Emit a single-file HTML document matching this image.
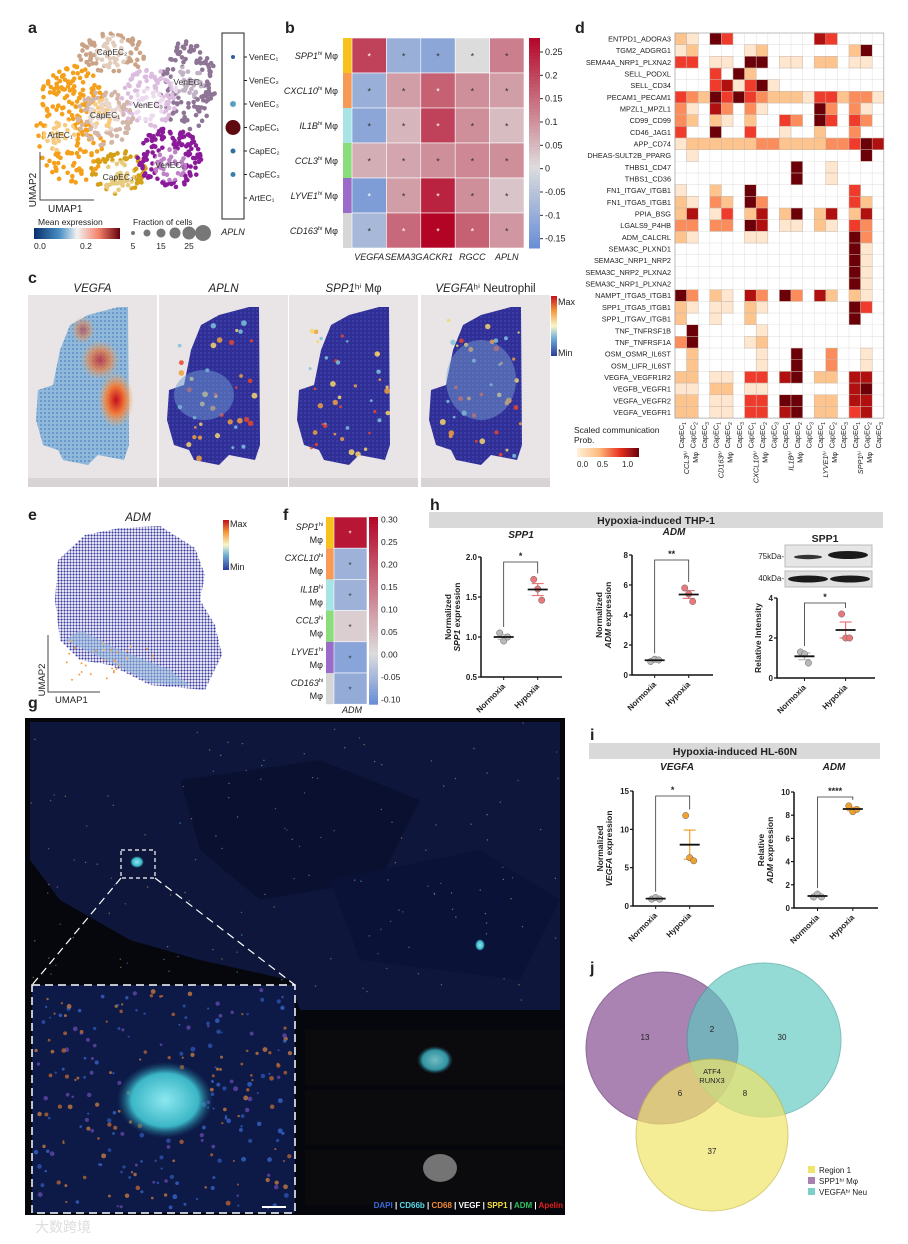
<!DOCTYPE html>
<html><head><meta charset="utf-8"><style>
body{margin:0;background:#fff}
svg{display:block;font-family:"Liberation Sans","Noto Sans CJK SC",sans-serif}
</style></head><body>
<svg id="fig" width="908" height="1244" viewBox="0 0 908 1244" xmlns="http://www.w3.org/2000/svg">
<defs>
<linearGradient id="mexp" x1="0" x2="1"><stop offset="0" stop-color="#08306b"/><stop offset="0.3" stop-color="#4a90c4"/><stop offset="0.5" stop-color="#f2f2f2"/><stop offset="0.75" stop-color="#f4836a"/><stop offset="1" stop-color="#67000d"/></linearGradient>
<linearGradient id="jet" x1="0" y1="1" x2="0" y2="0"><stop offset="0" stop-color="#2c3b9c"/><stop offset="0.3" stop-color="#6fb1d6"/><stop offset="0.5" stop-color="#f7f7c8"/><stop offset="0.75" stop-color="#f59b3a"/><stop offset="1" stop-color="#c4101c"/></linearGradient>
<linearGradient id="orr" x1="0" x2="1"><stop offset="0" stop-color="#fff0dc"/><stop offset="0.35" stop-color="#fdbb7c"/><stop offset="0.7" stop-color="#e8301f"/><stop offset="1" stop-color="#67000d"/></linearGradient>
<pattern id="navydots" width="4" height="4" patternUnits="userSpaceOnUse"><rect width="4" height="4" fill="#2f2f96"/><circle cx="1" cy="1" r="0.9" fill="#4747b8"/></pattern>
<pattern id="bluedots" width="4" height="4" patternUnits="userSpaceOnUse"><rect width="4" height="4" fill="#8fb8da"/><circle cx="1" cy="1" r="1" fill="#5f8fc6"/></pattern>
<pattern id="umapdots" width="3" height="3" patternUnits="userSpaceOnUse"><rect width="3" height="3" fill="#fff"/><circle cx="1.5" cy="1.5" r="1.1" fill="#3535a0"/></pattern>
<radialGradient id="hot"><stop offset="0" stop-color="#c4101c"/><stop offset="0.5" stop-color="#f07b3a"/><stop offset="1" stop-color="#f5b46a" stop-opacity="0"/></radialGradient>
<radialGradient id="cyan"><stop offset="0" stop-color="#8de8f0"/><stop offset="0.7" stop-color="#3bb6c6"/><stop offset="1" stop-color="#1a6080" stop-opacity="0"/></radialGradient>
</defs>
<g id="root"></g>
</svg>
<script>
// ---------- DATA ----------
const bRows=["SPP1","CXCL10","IL1B","CCL3","LYVE1","CD163"];
const bCols=["VEGFA","SEMA3G","ACKR1","RGCC","APLN"];
const bVals=[[0.20,-0.10,-0.12,0.00,0.12],[-0.10,0.08,0.16,0.10,0.08],[-0.12,0.05,0.20,0.10,0.04],[0.06,0.07,0.10,0.11,0.10],[-0.14,0.08,0.24,0.10,0.03],[-0.08,0.15,0.28,0.16,0.09]];
const bTicks=[0.25,0.2,0.15,0.1,0.05,0.0,-0.05,-0.1,-0.15];
const fVals=[0.28,-0.06,-0.06,0.02,-0.08,-0.07];
const fTicks=[0.30,0.25,0.20,0.15,0.10,0.05,0.00,-0.05,-0.10];
const dRows=["ENTPD1_ADORA3","TGM2_ADGRG1","SEMA4A_NRP1_PLXNA2","SELL_PODXL","SELL_CD34","PECAM1_PECAM1","MPZL1_MPZL1","CD99_CD99","CD46_JAG1","APP_CD74","DHEAS-SULT2B_PPARG","THBS1_CD47","THBS1_CD36","FN1_ITGAV_ITGB1","FN1_ITGA5_ITGB1","PPIA_BSG","LGALS9_P4HB","ADM_CALCRL","SEMA3C_PLXND1","SEMA3C_NRP1_NRP2","SEMA3C_NRP2_PLXNA2","SEMA3C_NRP1_PLXNA2","NAMPT_ITGA5_ITGB1","SPP1_ITGA5_ITGB1","SPP1_ITGAV_ITGB1","TNF_TNFRSF1B","TNF_TNFRSF1A","OSM_OSMR_IL6ST","OSM_LIFR_IL6ST","VEGFA_VEGFR1R2","VEGFB_VEGFR1","VEGFA_VEGFR2","VEGFA_VEGFR1"];
const dVals=["210640000000540000","120000120000000260","440110660110220110","000406200000000000","000451461000000000","432646432221442331","310530310000630310","320210200430640430","400600400100200300","122222233222233465","010000000000000060","000000000060010000","000000000060010000","100200600000000400","210320630000000420","250140250260250250","330330650110210430","210000110000000630","000000000000000610","000000000000000610","000000000000000610","000000000000000610","630210530630520210","210110210000000640","200100200000000600","060000010000000000","360000120000000000","020000010060030010","020000010060030010","220110440560220550","110220110000000560","220110440660220550","220110440560220450"];
const dGroups=["CCL3ʰⁱ","CD163ʰⁱ","CXCL10ʰⁱ","IL1Bʰⁱ","LYVE1ʰⁱ","SPP1ʰⁱ"];
const hSppNorm=[1.05,0.95,1.0], hSppHyp=[1.72,1.6,1.46];
const hAdmNorm=[0.9,1.05,1.0], hAdmHyp=[5.8,5.4,4.9];
const hWbNorm=[1.3,1.2,0.75], hWbHyp=[3.2,2.0,2.0];
const iVegNorm=[0.9,1.1,0.9], iVegHyp=[11.8,6.3,5.9];
const iAdmNorm=[0.95,1.2,0.95], iAdmHyp=[8.8,8.3,8.5];
const vennCounts=[13,2,30,6,8,37];

// ---------- helpers ----------
const NS="http://www.w3.org/2000/svg";
const root=document.getElementById('root');
function el(tag,attrs,parent,txt){const e=document.createElementNS(NS,tag);for(const k in attrs)e.setAttribute(k,attrs[k]);if(txt!==undefined)e.textContent=txt;(parent||root).appendChild(e);return e;}
function T(x,y,s,size,opts,parent){opts=opts||{};const e=el('text',{x:x,y:y,'font-size':size,fill:opts.fill||'#222','text-anchor':opts.anchor||'start','font-weight':opts.bold?'bold':'normal','font-style':opts.it?'italic':'normal'},parent,s);if(opts.rot)e.setAttribute('transform','rotate('+opts.rot+' '+x+' '+y+')');return e;}
function lerp(a,b,t){return a+(b-a)*t}
function mix(c1,c2,t){return 'rgb('+[0,1,2].map(i=>Math.round(lerp(c1[i],c2[i],t))).join(',')+')'}
function coolwarm(v,lo,hi){const blue=[106,143,214],gray=[221,220,220],red=[180,4,38];if(v<0)return mix(gray,blue,Math.min(1,v/lo));return mix(gray,red,Math.min(1,v/hi));}
let seed=7;function rnd(){seed=(seed*16807)%2147483647;return seed/2147483647;}
function mean(a){return a.reduce((s,v)=>s+v,0)/a.length}

// panel labels
[["a",28,33],["b",285,33],["d",575,33],["c",28,283],["e",28,520],["f",283,520],["h",430,510],["g",28,708],["i",590,740],["j",590,973]].forEach(p=>{const t=T(p[1],p[2],p[0],16,{bold:true});});

// ---------- Panel a ----------
(function(){
const g=el('g',{});
const cl=[["#f5a01a",72,125,38,60,230],["#caa386",112,55,35,22,90],["#8e7495",188,85,28,45,150],["#dcbde0",148,98,30,30,110],["#d3b6a8",105,118,28,28,100],["#d4a017",118,172,28,22,80],["#8b1a9a",170,158,33,30,150]];
cl.forEach(c=>{for(let i=0;i<c[5];i++){const a=rnd()*6.283,r=Math.sqrt(rnd());el('circle',{cx:c[1]+Math.cos(a)*r*c[3],cy:c[2]+Math.sin(a)*r*c[4],r:2.3,fill:c[0]},g);}});
[["CapEC₂",112,55],["VenEC₁",188,85],["VenEC₃",148,108],["CapEC₁",105,118],["ArtEC₁",60,138],["VenEC₂",170,168],["CapEC₃",118,180]].forEach(l=>{el('circle',{cx:l[1],cy:l[2]-3,r:17,fill:'#fff',opacity:0.45},g);T(l[1],l[2],l[0],8.5,{anchor:'middle',fill:'#333'},g);});
el('path',{d:'M40 152 V200 H94',fill:'none',stroke:'#444','stroke-width':1},g);
T(36,190,"UMAP2",10,{rot:-90,anchor:'middle'},g);T(48,212,"UMAP1",10,{},g);
T(38,225,"Mean expression",8.5,{},g);el('rect',{x:34,y:228,width:86,height:11,fill:'url(#mexp)'},g);
T(34,249,"0.0",8.5,{},g);T(80,249,"0.2",8.5,{},g);
T(133,225,"Fraction of cells",8.5,{},g);
[2,3.5,4.5,5.5,6.5,8].forEach((r,i)=>el('circle',{cx:133+i*14,cy:233,r:r,fill:'#777'},g));
T(133,249,"5",8.5,{anchor:'middle'},g);T(161,249,"15",8.5,{anchor:'middle'},g);T(189,249,"25",8.5,{anchor:'middle'},g);
el('rect',{x:222,y:33,width:22,height:186,fill:'none',stroke:'#222','stroke-width':1},g);
const lbl=["VenEC₁","VenEC₂","VenEC₃","CapEC₁","CapEC₂","CapEC₃","ArtEC₁"];const rr=[2,0,3,7.5,2.5,2.5,0];const cc=["#2f5f9a","","#5aa0c0","#5e0a10","#2f6f9a","#3a7fa8",""];
lbl.forEach((s,i)=>{const y=57+i*23.5;if(rr[i])el('circle',{cx:233,cy:y,r:rr[i],fill:cc[i]},g);el('line',{x1:244,x2:247,y1:y,y2:y,stroke:'#222'},g);T(249,y+3,s,8.5,{},g);});
T(233,235,"APLN",9,{anchor:'middle',it:true},g);
})();

// ---------- Panel b heatmap ----------
(function(){
const g=el('g',{});
const x0=352,y0=38,cw=34.4,ch=35,lo=-0.17,hi=0.28;
const strip=["#f7c21c","#f79a55","#a8e4e6","#8bdc7c","#9a6cc8","#d6d6d6"];
bRows.forEach((r,i)=>{el('rect',{x:343,y:y0+i*ch,width:9,height:ch,fill:strip[i]},g);
const t=T(338,y0+i*ch+21,'',9,{anchor:'end',it:true},g);t.innerHTML='<tspan font-style="italic">'+r+'</tspan><tspan font-size="5.5" dy="-4">hi</tspan><tspan dy="4" font-style="normal"> Mφ</tspan>';
bVals[i].forEach((v,j)=>{const c=el('rect',{x:x0+j*cw,y:y0+i*ch,width:cw,height:ch,fill:coolwarm(v,lo,hi),stroke:'#fff','stroke-width':0.6},g);
T(x0+j*cw+cw/2,y0+i*ch+ch/2+4,'*',9,{anchor:'middle',fill:Math.abs(v)>0.12?'#fff':'#333'},g);});});
bCols.forEach((c,j)=>T(x0+j*cw+cw/2,y0+6*ch+12,c,9,{anchor:'middle',it:true},g));
const cy=v=>y0+6*ch-(v-lo)/(hi-lo)*(6*ch);
for(let k=0;k<60;k++){const v=lo+(hi-lo)*k/60;el('rect',{x:529,y:cy(v+(hi-lo)/60),width:11,height:6*ch/60+0.5,fill:coolwarm(v,lo,hi)},g);}
bTicks.forEach(t=>{el('line',{x1:540,x2:543,y1:cy(t),y2:cy(t),stroke:'#333'},g);T(545,cy(t)+3,String(t),9,{},g);});
})();

// ---------- Panel c spatial ----------
(function(){
const titles=[["VEGFA",""],["APLN",""],["SPP1","ʰⁱ Mφ"],["VEGFA","ʰⁱ Neutrophil"]];
const xs=[28,159,289,421],w=129;
titles.forEach((t,i)=>{const g=el('g',{});
const x=xs[i];el('rect',{x:x,y:295,width:w,height:192,fill:'#e9e5e6'},g);
el('rect',{x:x,y:478,width:w,height:9,fill:'#d8d4d6'},g);
const p=[[90,12],[100,12],[101,150],[96,165],[70,160],[60,170],[35,165],[30,155],[15,150],[8,125],[10,95],[25,90],[32,55],[42,30],[60,20]].map(q=>(x+q[0]*1.0)+','+(295+q[1])).join(' ');
el('polygon',{points:p,fill:i===0?'url(#bluedots)':'url(#navydots)'},g);
if(i===0){el('ellipse',{cx:x+88,cy:400,rx:18,ry:28,fill:'url(#hot)'},g);el('ellipse',{cx:x+72,cy:360,rx:20,ry:20,fill:'url(#hot)',opacity:0.7},g);el('ellipse',{cx:x+55,cy:330,rx:12,ry:14,fill:'url(#hot)',opacity:0.5},g);}
else{for(let k=0;k<40;k++)el('circle',{cx:x+20+rnd()*80,cy:320+rnd()*140,r:1.2+rnd()*1.8,fill:['#f6d66a','#e8452c','#7cc3d8','#f0a040'][k%4],opacity:0.85},g);
if(i===1){el('ellipse',{cx:x+45,cy:395,rx:30,ry:25,fill:'#6f9ccf',opacity:0.5},g);}
if(i===3){el('ellipse',{cx:x+60,cy:380,rx:35,ry:40,fill:'#7fa9d0',opacity:0.45},g);}}
const tt=T(x+w/2,292,'',11.5,{anchor:'middle'},g);tt.innerHTML='<tspan font-style="italic">'+t[0]+'</tspan>'+t[1];});
el('rect',{x:551,y:296,width:6,height:60,fill:'url(#jet)'});T(558,305,"Max",9,{});T(558,356,"Min",9,{});
})();

// ---------- Panel d ----------
(function(){
const g=el('g',{});
const x0=675,y0=33,cw=11.6,ch=11.67,n=18;
const pal=["none","#fee6cf","#fdc48e","#fb8c5c","#ef3b2c","#b0100f","#6b0009"];
for(let j=0;j<=n;j++)el('line',{x1:x0+j*cw,x2:x0+j*cw,y1:y0,y2:y0+dRows.length*ch,stroke:'#e4e4e4','stroke-width':0.6},g);
for(let i=0;i<=dRows.length;i++)el('line',{x1:x0,x2:x0+n*cw,y1:y0+i*ch,y2:y0+i*ch,stroke:'#e4e4e4','stroke-width':0.6},g);
dRows.forEach((r,i)=>{T(671,y0+i*ch+8.5,r,7.3,{anchor:'end'},g);
dVals[i].split('').forEach((c,j)=>{const v=+c;if(v>0){const rc=el('rect',{x:x0+j*cw,y:y0+i*ch,width:cw,height:ch,fill:pal[v],stroke:'#c9b7aa','stroke-width':0.5},g);}});});
el('rect',{x:x0,y:y0,width:n*cw,height:dRows.length*ch,fill:'none',stroke:'#999','stroke-width':0.6},g);
for(let j=0;j<n;j++){const x=x0+j*cw+cw/2+3;const t=T(x,y0+dRows.length*ch+4,'',7.3,{anchor:'end',rot:-90},g);t.innerHTML='CapEC<tspan font-size="5" dy="2">'+(j%3+1)+'</tspan>';}
dGroups.forEach((s,k)=>{const x=x0+(k*3+1.2)*cw;T(x,452,s,7.3,{anchor:'end',rot:-90,it:true},g);T(x+9,452,'Mφ',7.3,{anchor:'end',rot:-90},g);});
T(574,433,"Scaled communication",8.5,{},g);T(574,443,"Prob.",8.5,{},g);
el('rect',{x:577,y:448,width:62,height:9,fill:'url(#orr)'},g);
T(577,467,"0.0",8,{},g);T(597,467,"0.5",8,{},g);T(622,467,"1.0",8,{},g);
})();

// ---------- Panel e ----------
(function(){
const g=el('g',{});
T(138,521,"ADM",11.5,{anchor:'middle',it:true},g);
el('path',{d:'M120 528 L160 526 L195 548 L205 575 L200 600 L215 625 L222 655 L205 690 L150 685 L110 665 L80 660 L60 640 L55 600 L58 560 L85 535 Z',fill:'url(#umapdots)'},g);
el('path',{d:'M65 640 L110 662 L150 683 L190 686 L170 670 L120 650 L80 630 Z',fill:'#8fb8da',opacity:0.55},g);
for(let k=0;k<30;k++)el('circle',{cx:65+rnd()*90,cy:640+rnd()*40,r:1,fill:'#f0a050'},g);
el('rect',{x:223,y:520,width:6,height:50,fill:'url(#jet)'},g);T(230,527,"Max",9,{},g);T(230,570,"Min",9,{},g);
el('path',{d:'M48 635 V692 H100',fill:'none',stroke:'#444'},g);T(45,680,"UMAP2",9.5,{rot:-90,anchor:'middle'},g);T(55,703,"UMAP1",9.5,{},g);
})();

// ---------- Panel f ----------
(function(){
const g=el('g',{});
const y0=517,ch=31.2,lo=-0.11,hi=0.305;
const strip=["#f7c21c","#f79a55","#a8e4e6","#8bdc7c","#9a6cc8","#d6d6d6"];
const names=["SPP1","CXCL10","IL1B","CCL3","LYVE1","CD163"];
fVals.forEach((v,i)=>{el('rect',{x:326,y:y0+i*ch,width:8,height:ch,fill:strip[i]},g);
const c=el('rect',{x:334,y:y0+i*ch,width:33,height:ch,fill:coolwarm(v,lo,hi),stroke:'#fff','stroke-width':0.6},g);
T(350,y0+i*ch+ch/2+4,'*',8,{anchor:'middle',fill:v>0.15?'#fff':'#333'},g);
const t=T(323,y0+i*ch+13,'',9,{anchor:'end'},g);t.innerHTML='<tspan font-style="italic">'+names[i]+'</tspan><tspan font-size="5.5" dy="-4">hi</tspan>';T(323,y0+i*ch+26,'Mφ',9,{anchor:'end'},g);});
const cy=v=>y0+6*ch-(v-lo)/(hi-lo)*(6*ch);
for(let k=0;k<60;k++){const v=lo+(hi-lo)*k/60;el('rect',{x:369,y:cy(v+(hi-lo)/60),width:9,height:6*ch/60+0.5,fill:coolwarm(v,lo,hi)},g);}
fTicks.forEach(t=>T(381,cy(t)+3,t.toFixed(2),8.5,{},g));
T(352,713,"ADM",9,{anchor:'middle',it:true},g);
})();

// ---------- dot plots h / i ----------
function dotplot(name,ax,axTop,axBot,axRight,yMin,yMax,ticks,tickFmt,norm,hyp,hypCol,star,ylab1,ylab2,title,titleX,titleY){
const g=el('g',{});
const sy=v=>axBot-(v-yMin)/(yMax-yMin)*(axBot-axTop);
const xN=ax+(axRight-ax)*0.28,xH=ax+(axRight-ax)*0.7;
el('path',{d:'M'+ax+' '+axTop+' V'+axBot+' H'+axRight,fill:'none',stroke:'#111','stroke-width':1.5},g);
ticks.forEach(t=>{el('line',{x1:ax-3,x2:ax,y1:sy(t),y2:sy(t),stroke:'#111','stroke-width':1.2},g);T(ax-4,sy(t)+3,tickFmt(t),8,{anchor:'end',bold:true},g);});
[[xN,'Normoxia'],[xH,'Hypoxia']].forEach(p=>{el('line',{x1:p[0],x2:p[0],y1:axBot,y2:axBot+3,stroke:'#111'},g);T(p[0]+2,axBot+10,p[1],8,{anchor:'end',bold:true,rot:-45},g);});
[[xN,norm,'#b8b8b8'],[xH,hyp,hypCol]].forEach(s=>{const m=mean(s[1]);const sd=Math.sqrt(s[1].reduce((a,v)=>a+(v-m)*(v-m),0)/(s[1].length-1))/Math.sqrt(s[1].length);
el('line',{x1:s[0],x2:s[0],y1:sy(m+sd),y2:sy(m-sd),stroke:s[2],'stroke-width':1.2},g);
[m+sd,m-sd].forEach(v=>el('line',{x1:s[0]-6,x2:s[0]+6,y1:sy(v),y2:sy(v),stroke:s[2],'stroke-width':1.2},g));
s[1].forEach((v,k)=>{const pt=el('circle',{cx:s[0]+(k-1)*4,cy:sy(v),r:3.2,fill:s[2],stroke:'#666','stroke-width':0.5},g);});
el('line',{x1:s[0]-10,x2:s[0]+10,y1:sy(m),y2:sy(m),stroke:'#111','stroke-width':1.8},g);});
const by=axTop+5,top1=sy(Math.max(...norm))-6,top2=sy(Math.max(...hyp))-6;
el('path',{d:'M'+xN+' '+top1+' V'+by+' H'+xH+' V'+top2,fill:'none',stroke:'#333','stroke-width':0.8},g);
T((xN+xH)/2,by-3,star,9,{anchor:'middle',bold:true},g);
if(ylab2){T(ax-30,(axTop+axBot)/2,ylab1,8.5,{anchor:'middle',rot:-90,bold:true},g);const t=T(ax-21,(axTop+axBot)/2,'',8.5,{anchor:'middle',rot:-90,bold:true},g);t.innerHTML=ylab2;}
else T(ax-16,(axTop+axBot)/2,ylab1,8.5,{anchor:'middle',rot:-90,bold:true},g);
if(title){T(titleX,titleY,title,10,{anchor:'middle',bold:true,it:true},g);}
}
// panel h
(function(){
const hd=el('rect',{x:429,y:512,width:454,height:16,fill:'#d9d9d9'});
T(656,524,"Hypoxia-induced THP-1",10.5,{anchor:'middle',bold:true});
dotplot('h-spp1-plot',481,557,677,562,0.5,2.0,[0.5,1.0,1.5,2.0],t=>t.toFixed(1),hSppNorm,hSppHyp,'#e8787a','*','Normalized','<tspan font-style="italic">SPP1</tspan> expression','SPP1',521,538);
dotplot('h-adm-plot',632,555,675,713,0,8,[0,2,4,6,8],t=>t,hAdmNorm,hAdmHyp,'#e8787a','**','Normalized','<tspan font-style="italic">ADM</tspan> expression','ADM',674,535);
const wb=el('g',{});
T(825,542,"SPP1",10.5,{anchor:'middle',bold:true},wb);
el('rect',{x:785,y:545,width:87,height:22,fill:'#e6e6e6',stroke:'#bbb'},wb);
el('ellipse',{cx:808,cy:557,rx:14,ry:2.2,fill:'#333'},wb);el('ellipse',{cx:848,cy:555,rx:20,ry:4,fill:'#1a1a1a'},wb);
el('rect',{x:785,y:571,width:87,height:16,fill:'#e0e0e0',stroke:'#bbb'},wb);
el('ellipse',{cx:808,cy:579,rx:20,ry:3.5,fill:'#1a1a1a'},wb);el('ellipse',{cx:850,cy:579,rx:20,ry:3.5,fill:'#1a1a1a'},wb);
T(784,559,"75kDa-",8,{anchor:'end'},wb);T(784,581,"40kDa-",8,{anchor:'end'},wb);
dotplot('h-western-quant',777,598,678,875,0,4,[0,2,4],t=>t,hWbNorm,hWbHyp,'#e8787a','*','Relative Intensity',null,null);
})();
// panel i
(function(){
const hd=el('rect',{x:589,y:743,width:291,height:16,fill:'#d9d9d9'});
T(735,755,"Hypoxia-induced HL-60N",10.5,{anchor:'middle',bold:true});
dotplot('i-vegfa-plot',633,791,906,714,0,15,[0,5,10,15],t=>t,iVegNorm,iVegHyp,'#f0a030','*','Normalized','<tspan font-style="italic">VEGFA</tspan> expression','VEGFA',677,770);
dotplot('i-adm-plot',794,792,908,878,0,10,[0,2,4,6,8,10],t=>t,iAdmNorm,iAdmHyp,'#f0a030','****','Relative','<tspan font-style="italic">ADM</tspan> expression','ADM',834,770);
})();

// ---------- Panel g ----------
(function(){
const g=el('g',{});
el('rect',{x:25,y:718,width:540,height:497,fill:'#05070d'},g);
el('path',{d:'M30 722 L560 722 L560 1010 L300 1010 L290 980 L200 960 L130 940 L60 900 L30 860 Z',fill:'#101a40',opacity:0.9},g);
el('path',{d:'M180 780 L320 760 L420 800 L380 880 L260 900 L200 850 Z',fill:'#0a1030'},g);
el('path',{d:'M330 880 L480 850 L560 900 L520 980 L360 960 Z',fill:'#0a1238'},g);
for(let k=0;k<150;k++)el('circle',{cx:30+rnd()*530,cy:722+rnd()*280,r:0.7,fill:['#e0a060','#5ac8d8','#a070d0'][k%3],opacity:0.6},g);
el('ellipse',{cx:137,cy:862,rx:7,ry:6,fill:'url(#cyan)'},g);el('ellipse',{cx:480,cy:945,rx:5,ry:6,fill:'url(#cyan)'},g);
el('rect',{x:121,y:850,width:34,height:28,fill:'none',stroke:'#fff','stroke-dasharray':'4 3','stroke-width':1.2},g);
el('line',{x1:121,y1:878,x2:32,y2:985,stroke:'#fff','stroke-dasharray':'8 5','stroke-width':1.2},g);
el('line',{x1:155,y1:878,x2:295,y2:985,stroke:'#fff','stroke-dasharray':'8 5','stroke-width':1.2},g);
el('rect',{x:32,y:985,width:263,height:228,fill:'#0d1a48'},g);
for(let k=0;k<260;k++)el('circle',{cx:36+rnd()*255,cy:990+rnd()*220,r:1+rnd()*1.5,fill:['#2f58b8','#d08040','#3a6ad0','#c06a30','#6a4ab0'][k%5],opacity:0.75},g);
el('ellipse',{cx:165,cy:1100,rx:48,ry:38,fill:'url(#cyan)'},g);
el('rect',{x:32,y:985,width:263,height:228,fill:'none',stroke:'#fff','stroke-dasharray':'8 5','stroke-width':1.5},g);
el('line',{x1:262,y1:1207,x2:286,y2:1207,stroke:'#fff','stroke-width':2},g);
[1030,1090,1150].forEach((y,i)=>{el('rect',{x:305,y:y,width:258,height:55,fill:'#0b0b0d'},g);});
el('ellipse',{cx:435,cy:1060,rx:18,ry:14,fill:'url(#cyan)',opacity:0.8},g);
el('ellipse',{cx:440,cy:1168,rx:17,ry:14,fill:'#bbb',opacity:0.6},g);
const lg=T(563,1208,'',8,{anchor:'end',bold:true},g);
lg.innerHTML='<tspan fill="#3a6ad8">DAPI</tspan><tspan fill="#fff"> | </tspan><tspan fill="#5ad8e8">CD66b</tspan><tspan fill="#fff"> | </tspan><tspan fill="#f08a30">CD68</tspan><tspan fill="#fff"> | VEGF | </tspan><tspan fill="#f5e040">SPP1</tspan><tspan fill="#fff"> | </tspan><tspan fill="#30c060">ADM</tspan><tspan fill="#fff"> | </tspan><tspan fill="#e02020">Apelin</tspan>';
})();

// ---------- Panel j venn ----------
(function(){
const g=el('g',{});
const c1=el('circle',{cx:662,cy:1048,r:76,fill:'#8e5a9a',opacity:0.75,stroke:'#6a3a78'},g);
const c2=el('circle',{cx:764,cy:1040,r:77,fill:'#5cc7c0',opacity:0.65,stroke:'#3a9f98'},g);
const c3=el('circle',{cx:712,cy:1135,r:76,fill:'#f1e46a',opacity:0.7,stroke:'#c8b840'},g);
const pos=[[645,1040],[712,1032],[782,1040],[680,1096],[745,1096],[712,1154]];
vennCounts.forEach((v,i)=>T(pos[i][0],pos[i][1],String(v),8,{anchor:'middle'},g));
T(712,1074,"ATF4",7.5,{anchor:'middle'},g);T(712,1083,"RUNX3",7.5,{anchor:'middle'},g);
[["#f1e46a","Region 1"],["#a77fb0","SPP1ʰⁱ Mφ"],["#7ccfc9","VEGFAʰⁱ Neu"]].forEach((l,i)=>{el('rect',{x:808,y:1166+i*11,width:7,height:7,fill:l[0]},g);T(819,1173+i*11,l[1],8,{},g);});
})();
T(35,1232,"大数跨境",14,{fill:'#dddddd'});
</script>
</body></html>
